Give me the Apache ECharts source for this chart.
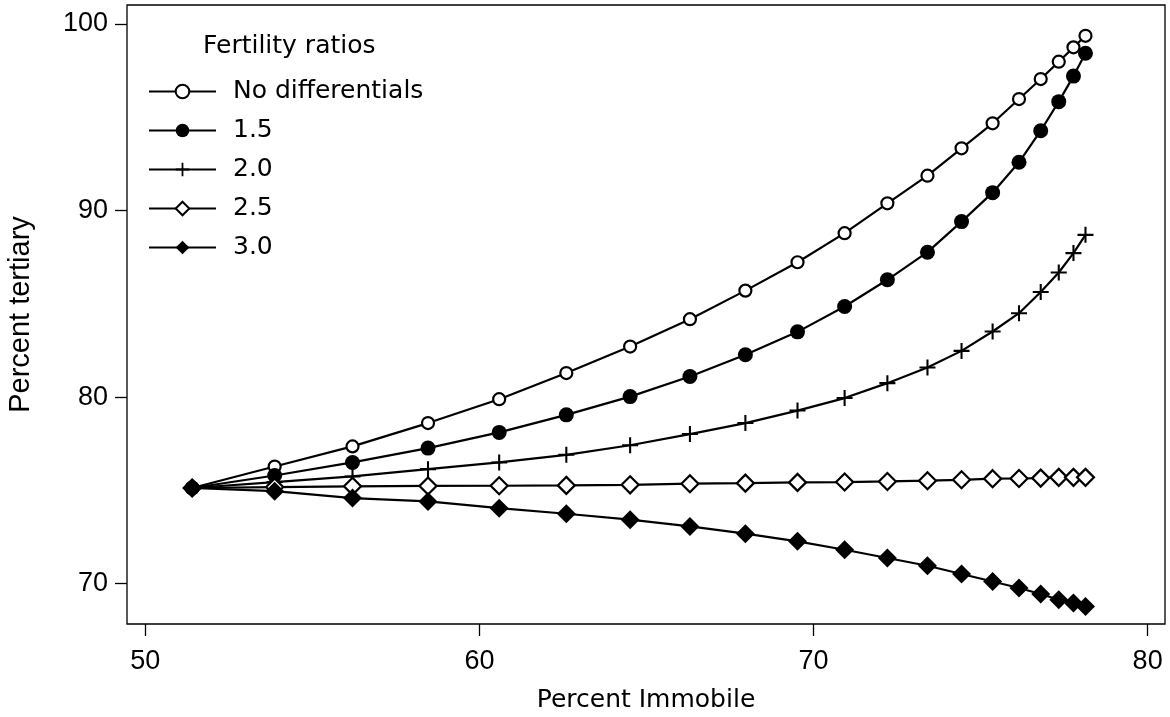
<!DOCTYPE html>
<html>
<head>
<meta charset="utf-8">
<script src="https://cdn.jsdelivr.net/npm/echarts@6/dist/echarts.min.js"></script>
<style>
  html, body { margin: 0; padding: 0; background: #fff; }
  #chart { width: 1170px; height: 717px; }
</style>
</head>
<body>
<div id="chart"></div>
<script>
// values
const pctImmobile = [51.40, 53.87, 56.20, 58.46, 60.59, 62.60, 64.51, 66.30, 67.96, 69.52,
  70.93, 72.21, 73.41, 74.43, 75.36, 76.15, 76.80, 77.34, 77.78, 78.14];
const noDiff = [75.13, 76.28, 77.36, 78.61, 79.89, 81.29, 82.71, 84.18, 85.71, 87.23,
  88.79, 90.39, 91.87, 93.34, 94.68, 95.98, 97.05, 97.98, 98.75, 99.37];
const ratio15 = [75.13, 75.80, 76.50, 77.27, 78.11, 79.05, 80.03, 81.11, 82.27, 83.50,
  84.86, 86.29, 87.77, 89.41, 90.96, 92.59, 94.28, 95.84, 97.21, 98.43];
const ratio20 = [75.13, 75.45, 75.75, 76.14, 76.50, 76.91, 77.42, 78.02, 78.61, 79.28,
  79.95, 80.75, 81.59, 82.48, 83.52, 84.50, 85.64, 86.68, 87.72, 88.70];
const ratio25 = [75.13, 75.18, 75.22, 75.24, 75.25, 75.27, 75.30, 75.36, 75.39, 75.43,
  75.45, 75.48, 75.52, 75.57, 75.63, 75.64, 75.66, 75.70, 75.70, 75.70];
const ratio30 = [75.13, 74.96, 74.59, 74.41, 74.05, 73.75, 73.43, 73.07, 72.68, 72.27,
  71.82, 71.38, 70.96, 70.52, 70.12, 69.77, 69.45, 69.14, 68.97, 68.78];
const seriesNames = ['No differentials', '1.5', '2.0', '2.5', '3.0'];
const xTicks = [50, 60, 70, 80];
const yTicks = [70, 80, 90, 100];

// words look wide in the original, numbers look like Arial
const WORDS = "'DejaVu Sans', sans-serif";
const NUMS = "'Liberation Sans', Arial, sans-serif";
const plus = 'path://M-1.3,-10 L1.3,-10 L1.3,-1.3 L10,-1.3 L10,1.3 L1.3,1.3 L1.3,10 L-1.3,10 L-1.3,1.3 L-10,1.3 L-10,-1.3 L-1.3,-1.3 Z';

const zip = (ys) => pctImmobile.map((x, i) => [x, ys[i]]);

function line(name, ys, symbol, size, fill) {
  return {
    name: name,
    type: 'line',
    data: zip(ys),
    symbol: symbol,
    symbolSize: size,
    showAllSymbol: true,
    lineStyle: { color: '#000', width: 2.2 },
    itemStyle: { color: fill, borderColor: '#000', borderWidth: fill === '#fff' ? 2.2 : 0 },
    emphasis: { disabled: true }
  };
}

const chart = echarts.init(document.getElementById('chart'));

chart.setOption({
  animation: false,
  textStyle: { fontFamily: WORDS, color: '#000' },
  title: {
    text: 'Fertility ratios',
    left: 203,
    top: 34,
    padding: 0,
    textStyle: { fontFamily: WORDS, fontSize: 25, fontWeight: 'normal', color: '#000' }
  },
  legend: {
    orient: 'vertical',
    left: 148,
    top: 79,
    padding: 0,
    itemWidth: 67,
    itemHeight: 17,
    itemGap: 14,
    data: seriesNames,
    textStyle: { fontFamily: WORDS, fontSize: 25, color: '#000', padding: [0, 0, 0, 12] }
  },
  grid: {
    left: 127, right: 5, top: 5, bottom: 93,
    outerBoundsMode: 'none',
    show: true, borderColor: '#000', borderWidth: 1.3
  },
  xAxis: {
    type: 'value',
    min: 49.45,
    max: 80.52,
    name: 'Percent Immobile',
    nameLocation: 'middle',
    nameGap: 64,
    nameTextStyle: { fontFamily: WORDS, fontSize: 25, color: '#000' },
    axisLine: { show: false },
    axisTick: { show: true, length: 12, customValues: xTicks, lineStyle: { color: '#000', width: 1.3 } },
    axisLabel: { customValues: xTicks, margin: 24, fontSize: 27, color: '#000', fontFamily: NUMS },
    splitLine: { show: false }
  },
  yAxis: {
    type: 'value',
    min: 67.84,
    max: 101.02,
    name: 'Percent tertiary',
    nameLocation: 'middle',
    nameGap: 92,
    nameTextStyle: { fontFamily: NUMS, fontSize: 29, color: '#000' },
    axisLine: { show: false },
    axisTick: { show: true, length: 12, customValues: yTicks, lineStyle: { color: '#000', width: 1.3 } },
    axisLabel: { customValues: yTicks, margin: 19, fontSize: 27, color: '#000', fontFamily: NUMS },
    splitLine: { show: false }
  },
  series: [
    line(seriesNames[0], noDiff, 'circle', 12, '#fff'),
    line(seriesNames[1], ratio15, 'circle', 15, '#000'),
    line(seriesNames[2], ratio20, plus, 16, '#000'),
    line(seriesNames[3], ratio25, 'diamond', 17, '#fff'),
    line(seriesNames[4], ratio30, 'diamond', 19, '#000')
  ]
});

window.addEventListener('resize', () => chart.resize());
</script>
</body>
</html>
